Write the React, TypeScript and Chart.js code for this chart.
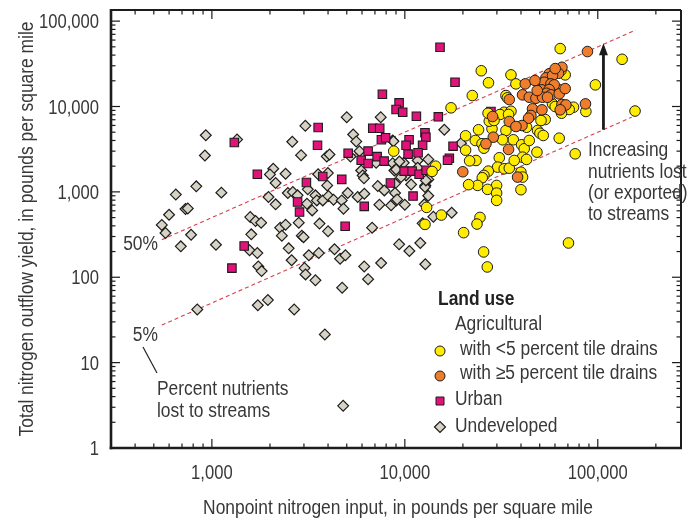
import React, { useEffect, useRef } from 'react';
import { Chart, registerables } from 'chart.js';

Chart.register(...registerables);

type Pt = [number, number];

// Axis ranges and labelled ticks (pounds per square mile)
const xRange: Pt = [300, 270000];
const yRange: Pt = [1, 135000];
const xTickValues = [1000, 10000, 100000];
const yTickValues = [1, 10, 100, 1000, 10000, 100000];

// [nonpoint nitrogen input, total nitrogen outflow yield]
const agricLowTile: Pt[] = [
  [63870, 47670], [133700, 35720], [24900, 26220], [35490, 23470], [27140, 18980], [37660, 18410],
  [22370, 13440], [33430, 13440], [34000, 12630], [97190, 17930], [67780, 23470], [64400, 26360],
  [64400, 15670], [86750, 8740], [74870, 9810], [71100, 9220], [156000, 8850], [32750, 8570],
  [35490, 8800], [31130, 8060], [58270, 10740], [63110, 4255], [76370, 2790], [24100, 5340],
  [28300, 5480], [33430, 5236], [36490, 4075], [32110, 4075], [48740, 5236], [50150, 4865],
  [52170, 4577], [53410, 7040], [50780, 6855], [42750, 5720], [23190, 4000], [25120, 3660],
  [25700, 3250], [40280, 3560], [41570, 3200], [48380, 2920], [40750, 2550], [42750, 2400],
  [30870, 2510], [30250, 1950], [32750, 1865], [34780, 1895], [27070, 1750], [25700, 1560],
  [25190, 1465], [39970, 1700], [40750, 1490], [23840, 1190], [29890, 1190], [39970, 1060],
  [23380, 2333], [34480, 8060], [17360, 9650], [27400, 6725], [28990, 6855], [60170, 9990],
  [64870, 8340], [20650, 4540], [27000, 8340], [20650, 3080], [8760, 3000], [21670, 2310],
  [14440, 2000], [13840, 1735], [21400, 1215], [26850, 1070], [12970, 658], [15460, 535],
  [24520, 502], [23660, 420], [12720, 416], [29900, 968], [29900, 795], [20170, 333],
  [70500, 252], [25610, 198], [26750, 132], [36900, 2333], [44140, 4000],
];

const agricHighTile: Pt[] = [
  [88430, 44000], [65190, 28810], [62580, 24500], [56020, 24120], [53860, 21640], [58270, 23040],
  [50330, 18410], [52760, 19240], [57170, 18410], [59440, 17930], [51340, 15670], [56020, 15800],
  [54260, 14290], [57170, 13700], [42080, 18410], [40750, 13700], [44140, 12840], [47800, 12490],
  [51720, 12840], [54900, 12840], [63110, 14060], [65190, 10550], [68350, 10440], [63870, 9140],
  [86350, 10740], [34780, 12060], [45900, 9390], [51370, 9140], [45020, 7845], [43770, 7290],
  [28490, 7630], [34780, 6675], [40470, 5990], [37660, 5830], [28740, 4370], [26330, 3660],
  [34480, 3140], [38400, 1490], [19970, 1720], [60170, 27800], [48540, 15380], [67780, 16200],
  [47240, 20140],
];

const urban: Pt[] = [
  [15220, 49400], [18200, 19240], [7650, 13920], [9340, 11040], [9010, 9220], [9750, 8570],
  [11480, 7700], [14910, 7570], [3555, 5675], [3527, 3520], [1307, 3790], [6820, 5570],
  [7410, 5570], [7560, 4075], [7950, 4300], [12720, 4920], [12860, 4370], [10520, 4075],
  [10150, 3520], [12360, 3520], [6450, 3000], [5085, 2840], [7185, 2590], [10400, 2765],
  [11710, 2870], [5940, 2350], [6450, 2150], [7810, 2290], [9920, 1750], [10910, 1750],
  [11860, 1610], [1720, 1610], [3755, 1515], [4710, 1400], [12900, 1790], [3090, 1290],
  [8420, 1270], [11030, 893], [2780, 760], [2846, 580], [6160, 676], [4905, 395],
  [1470, 232], [1270, 128], [17780, 3430], [17010, 2480], [16650, 2350], [27950, 8740],
];

const undeveloped: Pt[] = [
  [930, 4600], [920, 2670], [830, 1160], [650, 930], [1120, 980], [600, 540], [730, 630],
  [750, 640], [550, 410], [575, 330], [780, 315], [690, 230], [1050, 240], [840, 42],
  [1350, 4100], [3050, 5940], [5000, 7500], [7500, 7500], [2610, 3860], [5400, 4700],
  [5600, 3900], [2900, 2690], [3940, 2600], [4070, 2740], [5230, 2590], [5820, 3000],
  [2080, 1865], [2000, 1600], [2410, 1630], [3555, 1610], [3990, 1660], [8650, 4000],
  [8650, 2170], [5940, 1780], [6050, 1560], [9870, 2190], [11660, 2330], [8830, 1780],
  [10150, 1560], [7100, 2190], [2140, 1270], [3960, 1190], [6140, 1440], [7240, 1170],
  [7830, 1041], [8900, 1250], [8900, 970], [10780, 1220], [12770, 1190], [1965, 870],
  [2140, 714], [2475, 970], [2627, 995], [2780, 910], [3140, 1070], [3440, 910], [3110, 727],
  [3310, 607], [3500, 795], [3755, 795], [4020, 893], [4270, 810], [4710, 795], [5060, 970],
  [5700, 870], [4810, 636], [7384, 708], [8490, 695], [9010, 795], [10000, 708], [1580, 507],
  [1684, 455], [1800, 436], [1600, 318], [2260, 381], [2410, 413], [2305, 307], [2820, 436],
  [2925, 307], [2985, 295], [3612, 425], [4000, 345], [6770, 381], [1568, 207], [1720, 192],
  [2500, 218], [2590, 158], [3180, 181], [3580, 192], [4320, 213], [4620, 165], [4920, 181],
  [1740, 134], [1810, 118], [3020, 128], [3057, 108], [3440, 92], [6160, 134], [6450, 95],
  [7540, 147], [9340, 243], [10560, 203], [12030, 252], [12770, 142], [4735, 75.5], [1730, 47],
  [1950, 54], [2670, 42], [3850, 21.4], [4790, 3.12], [16020, 5340], [8730, 3920], [19550, 3720],
  [13230, 2400], [9372, 2270], [11660, 1915], [9010, 1830], [9560, 1490], [13230, 1400],
  [12720, 1140], [6170, 950], [13230, 900], [9120, 816], [12620, 714], [14060, 512], [17490, 570],
  [12360, 428], [12860, 1363],
];

// Yield as 50 percent and 5 percent of input
const line50: Pt[] = [[550, 275], [157000, 78500]];
const line5: Pt[] = [[550, 27.5], [150000, 7500]];
// Arrow spanning the two reference lines
const exportArrow: Pt[] = [[107000, 5350], [107000, 53500]];

const FONT = '"Liberation Sans", Arial, sans-serif';
const INK = '#383838';
const OUTLINE = '#1c1c1c';
const YELLOW = '#ffec00';
const ORANGE = '#ef7d2b';
const PINK = '#e3127a';
const GRAY = '#d6d3c4';
const DASH = '#d8404e';

const WORD_SQUEEZE = 0.87;
const DIGIT_SQUEEZE = 0.83;

const toXY = (pts: Pt[]) => pts.map(([x, y]) => ({ x, y }));
const fmt = (v: number) => v.toLocaleString('en-US');

// Condensed-looking text: a regular sans face squeezed along its baseline
function label(
  ctx: CanvasRenderingContext2D,
  text: string,
  x: number,
  y: number,
  align: CanvasTextAlign,
  opts: { bold?: boolean; squeeze?: number; rotate?: boolean; color?: string; size?: number } = {}
) {
  ctx.save();
  ctx.translate(x, y);
  if (opts.rotate) ctx.rotate(-Math.PI / 2);
  ctx.scale(opts.squeeze ?? WORD_SQUEEZE, 1);
  ctx.font = `${opts.bold ? 'bold ' : ''}${opts.size ?? 20}px ${FONT}`;
  ctx.fillStyle = opts.color ?? INK;
  ctx.textAlign = align;
  ctx.textBaseline = 'middle';
  ctx.fillText(text, 0, 0);
  ctx.restore();
}

const decorations = {
  id: 'decorations',
  beforeDatasetsDraw(chart: any) {
    const { ctx, chartArea: a, scales } = chart;
    const xs = scales.x;
    const ys = scales.y;
    ctx.save();
    ctx.strokeStyle = OUTLINE;
    ctx.lineWidth = 1.2;
    const seg = (x1: number, y1: number, x2: number, y2: number) => {
      ctx.beginPath();
      ctx.moveTo(x1, y1);
      ctx.lineTo(x2, y2);
      ctx.stroke();
    };
    for (let d = 100; d <= 1e6; d *= 10) {
      for (let m = 1; m <= 9; m++) {
        const v = m * d;
        if (v < xs.min || v > xs.max) continue;
        const px = xs.getPixelForValue(v);
        const len = m === 1 ? 9 : 4.5;
        seg(px, a.bottom, px, a.bottom - len);
        seg(px, a.top, px, a.top + len);
      }
    }
    for (let d = 1; d <= 1e6; d *= 10) {
      for (let m = 1; m <= 9; m++) {
        const v = m * d;
        if (v < ys.min || v > ys.max) continue;
        const py = ys.getPixelForValue(v);
        const len = m === 1 ? 9 : 4.5;
        seg(a.left, py, a.left + len, py);
        seg(a.right, py, a.right - len, py);
      }
    }
    ctx.lineWidth = 2;
    seg(a.left, a.top, a.right, a.top);
    seg(a.right, a.top, a.right, a.bottom);
    ctx.lineWidth = 2.6;
    seg(a.left, a.top - 1, a.left, a.bottom + 1.3);
    seg(a.left - 1.3, a.bottom, a.right + 1, a.bottom);
    ctx.restore();

    // Tick labels and axis titles
    for (const t of xs.ticks) {
      label(ctx, fmt(t.value), xs.getPixelForValue(t.value), a.bottom + 25, 'center', { squeeze: DIGIT_SQUEEZE });
    }
    for (const t of ys.ticks) {
      label(ctx, fmt(t.value), a.left - 12, ys.getPixelForValue(t.value) + 1.5, 'right', { squeeze: DIGIT_SQUEEZE });
    }
    label(ctx, 'Nonpoint nitrogen input, in pounds per square mile', (a.left + a.right) / 2 + 2, 508, 'center');
    label(ctx, 'Total nitrogen outflow yield, in pounds per square mile', 27, (a.top + a.bottom) / 2, 'center', { rotate: true });
  },
  afterDatasetsDraw(chart: any) {
    const { ctx, scales } = chart;
    const xs = scales.x;
    const ys = scales.y;
    ctx.save();

    // Export arrow
    const ax = xs.getPixelForValue(exportArrow[0][0]);
    const ay0 = ys.getPixelForValue(exportArrow[0][1]);
    const ay1 = ys.getPixelForValue(exportArrow[1][1]);
    ctx.strokeStyle = '#1a1a1a';
    ctx.fillStyle = '#1a1a1a';
    ctx.lineWidth = 2.8;
    ctx.beginPath();
    ctx.moveTo(ax, ay0);
    ctx.lineTo(ax, ay1 + 8);
    ctx.stroke();
    ctx.beginPath();
    ctx.moveTo(ax, ay1 - 1);
    ctx.lineTo(ax - 4.5, ay1 + 11);
    ctx.lineTo(ax + 4.5, ay1 + 11);
    ctx.closePath();
    ctx.fill();

    // Pointer from the 5% label
    ctx.lineWidth = 1.2;
    ctx.strokeStyle = '#222';
    ctx.beginPath();
    ctx.moveTo(143, 347);
    ctx.lineTo(157, 373);
    ctx.stroke();
    ctx.restore();

    label(ctx, '50%', 158, 244, 'right');
    label(ctx, '5%', 158, 335, 'right');
    label(ctx, 'Percent nutrients', 157, 389, 'left');
    label(ctx, 'lost to streams', 157, 411, 'left');
    label(ctx, 'Increasing', 588, 150, 'left');
    label(ctx, 'nutrients lost', 588, 172, 'left');
    label(ctx, '(or exported)', 588, 193, 'left');
    label(ctx, 'to streams', 588, 214, 'left');

    // Legend
    label(ctx, 'Land use', 438, 299, 'left', { bold: true, color: '#222' });
    label(ctx, 'Agricultural', 455, 324, 'left');
    label(ctx, 'with <5 percent tile drains', 460, 349, 'left');
    label(ctx, 'with \u22655 percent tile drains', 460, 373, 'left');
    label(ctx, 'Urban', 455, 399, 'left');
    label(ctx, 'Undeveloped', 455, 426, 'left');

    ctx.save();
    ctx.strokeStyle = OUTLINE;
    ctx.lineWidth = 1;
    const lx = 440;
    ctx.fillStyle = YELLOW;
    ctx.beginPath();
    ctx.arc(lx, 351, 5, 0, Math.PI * 2);
    ctx.fill();
    ctx.stroke();
    ctx.fillStyle = ORANGE;
    ctx.beginPath();
    ctx.arc(lx, 376, 5, 0, Math.PI * 2);
    ctx.fill();
    ctx.stroke();
    ctx.fillStyle = PINK;
    ctx.beginPath();
    ctx.rect(lx - 4, 401 - 4, 8, 8);
    ctx.fill();
    ctx.stroke();
    ctx.fillStyle = GRAY;
    ctx.lineWidth = 1.2;
    ctx.beginPath();
    ctx.moveTo(lx - 5.5, 427);
    ctx.lineTo(lx, 421.5);
    ctx.lineTo(lx + 5.5, 427);
    ctx.lineTo(lx, 432.5);
    ctx.closePath();
    ctx.fill();
    ctx.stroke();
    ctx.restore();
  },
};

export default function App() {
  const canvasRef = useRef<HTMLCanvasElement | null>(null);

  useEffect(() => {
    const canvas = canvasRef.current;
    if (!canvas) return;

    const pointSet = (name: string, pts: Pt[], style: string, fill: string, order: number, radius: number, bw: number) => ({
      label: name,
      data: toXY(pts),
      pointStyle: style,
      pointRadius: radius,
      pointHoverRadius: radius,
      backgroundColor: fill,
      borderColor: OUTLINE,
      borderWidth: bw,
      order,
    });

    const refLine = (name: string, pts: Pt[]) => ({
      label: name,
      data: toXY(pts),
      showLine: true,
      pointRadius: 0,
      borderColor: DASH,
      borderWidth: 1.1,
      borderDash: [4, 3],
      fill: false,
      order: 10,
    });

    const chart = new Chart(canvas, {
      type: 'scatter',
      data: {
        datasets: [
          pointSet('with \u22655 percent tile drains', agricHighTile, 'circle', ORANGE, 1, 5.3, 1),
          pointSet('with <5 percent tile drains', agricLowTile, 'circle', YELLOW, 2, 5.3, 1),
          pointSet('Urban', urban, 'rect', PINK, 3, 6, 1.1),
          pointSet('Undeveloped', undeveloped, 'rectRot', GRAY, 4, 5.4, 1.2),
          refLine('50 percent', line50),
          refLine('5 percent', line5),
        ] as any,
      },
      options: {
        animation: false,
        responsive: false,
        devicePixelRatio: 1,
        events: [],
        layout: { padding: { top: 10, right: 8, left: 0, bottom: 0 } },
        plugins: {
          legend: { display: false },
          tooltip: { enabled: false },
        },
        scales: {
          x: {
            type: 'logarithmic',
            min: xRange[0],
            max: xRange[1],
            grid: { display: false, drawTicks: false },
            border: { display: false },
            afterBuildTicks: (s: any) => {
              s.ticks = xTickValues.map((value) => ({ value }));
            },
            afterFit: (s: any) => {
              s.height = 71;
            },
            ticks: { display: false },
            title: { display: false },
          },
          y: {
            type: 'logarithmic',
            min: yRange[0],
            max: yRange[1],
            grid: { display: false, drawTicks: false },
            border: { display: false },
            afterBuildTicks: (s: any) => {
              s.ticks = yTickValues.map((value) => ({ value }));
            },
            afterFit: (s: any) => {
              s.width = 111;
            },
            ticks: { display: false },
            title: { display: false },
          },
        },
      } as any,
      plugins: [decorations],
    });

    return () => chart.destroy();
  }, []);

  return (
    <div style={{ position: 'absolute', left: 0, top: 0, width: 689, height: 519, background: '#fff' }}>
      <canvas ref={canvasRef} width={689} height={519} style={{ display: 'block' }} />
    </div>
  );
}
